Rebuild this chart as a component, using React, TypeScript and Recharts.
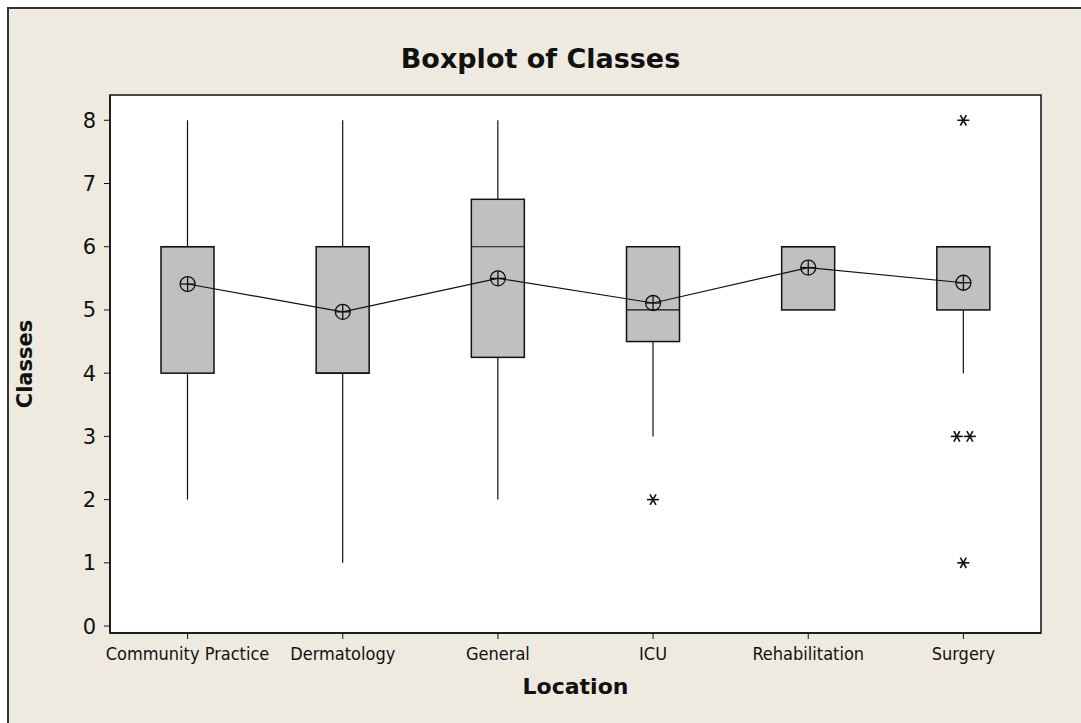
import React from 'react';
import { ComposedChart, Bar, Line, XAxis, YAxis, CartesianGrid, ReferenceArea } from 'recharts';

const locations = ['Community Practice', 'Dermatology', 'General', 'ICU', 'Rehabilitation', 'Surgery'];
const whiskerLow = [2, 1, 2, 3, 5, 4];
const q1 = [4, 4, 4.25, 4.5, 5, 5];
const medians = [6, 4, 6, 5, 6, 6];
const q3 = [6, 6, 6.75, 6, 6, 6];
const whiskerHigh = [8, 8, 8, 6, 6, 6];
const means = [5.41, 4.97, 5.5, 5.11, 5.67, 5.43];
const outliers = [[], [], [], [2], [], [8, 3, 3, 1]];
const yTicks = [0, 1, 2, 3, 4, 5, 6, 7, 8];
const yDomain = [-0.11, 8.4];

const data = locations.map((location, i) => ({
  location,
  range: [whiskerLow[i], whiskerHigh[i]],
  low: whiskerLow[i],
  high: whiskerHigh[i],
  q1: q1[i],
  median: medians[i],
  q3: q3[i],
  mean: means[i],
  outliers: outliers[i]
}));

const FONT = '"DejaVu Sans", Verdana, sans-serif';
const INK = '#111';

const Asterisk = ({ cx, cy }: { cx: number; cy: number }) => {
  const r = 6;
  const angles = [0, 60, 120];
  return (
    <g stroke={INK} strokeWidth={1.6}>
      {angles.map((a) => {
        const dx = r * Math.cos((a * Math.PI) / 180);
        const dy = r * Math.sin((a * Math.PI) / 180);
        return <line key={a} x1={cx - dx} y1={cy - dy} x2={cx + dx} y2={cy + dy} />;
      })}
    </g>
  );
};

const BoxShape = (props: any) => {
  const { x, y, width, height, payload } = props;
  const lo = payload.low;
  const hi = payload.high;
  const px = Math.abs(height) / (hi - lo);
  const top = Math.min(y, y + height);
  const yOf = (v: number) => top + (hi - v) * px;
  const cx = x + width / 2;

  // duplicated outlier values sit side by side
  const seen: Record<string, number> = {};
  const counts: Record<string, number> = {};
  payload.outliers.forEach((v: number) => { counts[v] = (counts[v] || 0) + 1; });

  return (
    <g>
      <line x1={cx} x2={cx} y1={yOf(hi)} y2={yOf(payload.q3)} stroke={INK} strokeWidth={1.2} />
      <line x1={cx} x2={cx} y1={yOf(payload.q1)} y2={yOf(lo)} stroke={INK} strokeWidth={1.2} />
      <rect
        x={x}
        y={yOf(payload.q3)}
        width={width}
        height={yOf(payload.q1) - yOf(payload.q3)}
        fill="#C0C0C0"
        stroke={INK}
        strokeWidth={1.5}
      />
      <line x1={x} x2={x + width} y1={yOf(payload.median)} y2={yOf(payload.median)} stroke={INK} strokeWidth={1.2} />
      {payload.outliers.map((v: number, i: number) => {
        const k = seen[v] || 0;
        seen[v] = k + 1;
        const n = counts[v];
        const off = (k - (n - 1) / 2) * 13;
        return <Asterisk key={i} cx={cx + off} cy={yOf(v)} />;
      })}
    </g>
  );
};

const MeanDot = (props: any) => {
  const { cx, cy } = props;
  const r = 7.5;
  return (
    <g stroke={INK} strokeWidth={1.3} fill="none">
      <circle cx={cx} cy={cy} r={r} />
      <line x1={cx - r} x2={cx + r} y1={cy} y2={cy} />
      <line x1={cx} x2={cx} y1={cy - r} y2={cy + r} />
    </g>
  );
};

export default function App() {
  return (
    <div style={{ position: 'absolute', left: 0, top: 0, width: 1081, height: 723, background: '#fff', overflow: 'hidden' }}>
      <div
        style={{
          position: 'absolute',
          left: 7,
          top: 7,
          width: 1090,
          height: 730,
          background: '#EEEAE0',
          borderLeft: '2px solid #333',
          borderTop: '2px solid #333'
        }}
      />
      <div
        style={{
          position: 'absolute',
          left: 0,
          width: 1081,
          top: 43,
          textAlign: 'center',
          fontFamily: FONT,
          fontWeight: 'bold',
          fontSize: 27,
          color: INK
        }}
      >
        Boxplot of Classes
      </div>
      <div style={{ position: 'absolute', left: 0, top: 0 }}>
        <ComposedChart width={1081} height={723} data={data} margin={{ top: 95, right: 40, bottom: 0, left: 50 }}>
          <CartesianGrid horizontal={false} vertical={false} fill="#fff" />
          <XAxis
            dataKey="location"
            height={90}
            tickSize={6}
            tickMargin={8}
            stroke={INK}
            axisLine={{ stroke: INK, strokeWidth: 1.5 }}
            tick={{ fontFamily: '"DejaVu Sans Condensed", "DejaVu Sans", sans-serif', fontSize: 18, fill: INK }}
            interval={0}
            label={(p: any) => {
              const vb = p.viewBox;
              return (
                <text x={vb.x + vb.width / 2} y={vb.y + 61} textAnchor="middle" fontFamily={FONT} fontWeight="bold" fontSize={22} fill={INK}>
                  Location
                </text>
              );
            }}
          />
          <YAxis
            type="number"
            domain={yDomain}
            ticks={yTicks}
            allowDataOverflow
            width={60}
            tickSize={6}
            tickMargin={8}
            stroke={INK}
            axisLine={{ stroke: INK, strokeWidth: 1.5 }}
            tick={{ fontFamily: FONT, fontSize: 21, fill: INK }}
            label={(p: any) => {
              const vb = p.viewBox;
              const cy = vb.y + vb.height / 2;
              return (
                <text x={vb.x - 18} y={cy} transform={`rotate(-90 ${vb.x - 18} ${cy})`} textAnchor="middle" fontFamily={FONT} fontWeight="bold" fontSize={21} fill={INK}>
                  Classes
                </text>
              );
            }}
          />
          <ReferenceArea
            x1={locations[0]}
            x2={locations[locations.length - 1]}
            y1={yDomain[0]}
            y2={yDomain[1]}
            fill="none"
            fillOpacity={0}
            stroke={INK}
            strokeWidth={1.5}
            ifOverflow="visible"
          />
          <Bar dataKey="range" barSize={53} shape={BoxShape} isAnimationActive={false} />
          <Line dataKey="mean" stroke={INK} strokeWidth={1.2} dot={MeanDot} activeDot={false} isAnimationActive={false} />
        </ComposedChart>
      </div>
    </div>
  );
}
